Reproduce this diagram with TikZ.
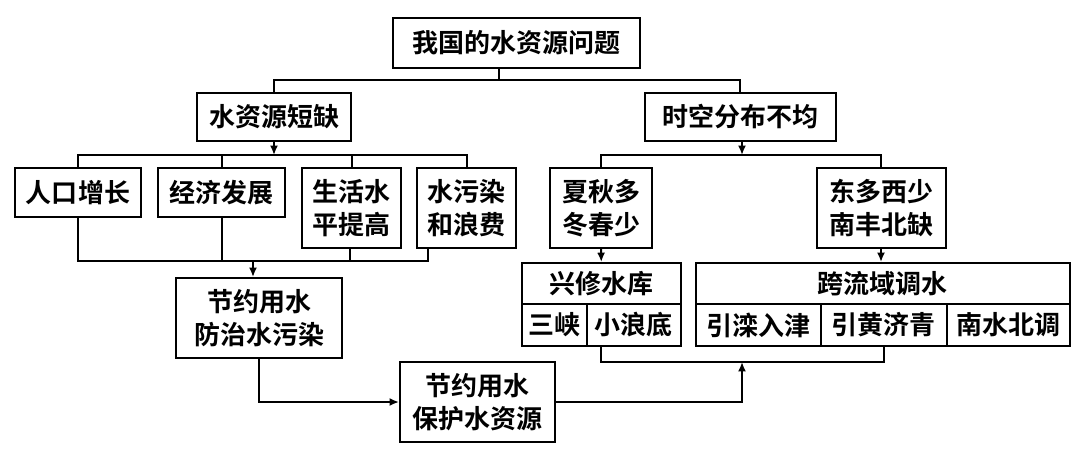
\documentclass[tikz,border=0pt]{standalone}
\usepackage{fontspec}
\newfontfamily\cjk{Noto Sans CJK SC Bold}
\usetikzlibrary{arrows.meta}

\begin{document}
\begin{tikzpicture}[x=0.75pt, y=-0.75pt,
		b/.style={draw, line width=1.5pt, inner sep=0pt, align=center, font=\cjk\fontsize{19.5}{25}\selectfont},
		arr/.style={-{Latex[length=7pt, width=6pt]}},
		every path/.style={line width=1.5pt}]
		\useasboundingbox (0,0) rectangle (1080,458);

		\node[b, minimum width=185.25pt, minimum height=37.5pt] (top) at (516,43) {我国的水资源问题};
		\node[b, minimum width=115.5pt, minimum height=36pt] (short) at (274,117) {水资源短缺};
		\node[b, minimum width=143.25pt, minimum height=36pt] (uneven) at (740,117) {时空分布不均};

		\node[b, minimum width=94.5pt, minimum height=36.75pt] (people) at (78,192.5) {人口增长};
		\node[b, minimum width=95.25pt, minimum height=36.75pt] (econ) at (221.5,192.5) {经济发展};
		\node[b, minimum width=74.25pt, minimum height=60pt] (life) at (351.5,208) {生活水\\平提高};
		\node[b, minimum width=74.25pt, minimum height=60pt] (pollu) at (466.5,208) {水污染\\和浪费};
		\node[b, minimum width=77pt, minimum height=59.8pt] (season) at (601,208) {夏秋多\\冬春少};
		\node[b, minimum width=96.75pt, minimum height=59.8pt] (region) at (881,208) {东多西少\\南丰北缺};

		\node[b, minimum width=124.5pt, minimum height=60pt] (save1) at (259,318) {节约用水\\防治水污染};
		\node[b, minimum width=116.25pt, minimum height=60pt] (save2) at (477.5,402) {节约用水\\保护水资源};

		\node[b, minimum width=119.5pt, minimum height=30.75pt] (res) at (601.3,283.5) {兴修水库};
		\node[b, minimum width=48.75pt, minimum height=31.5pt] (sanxia) at (554.2,325) {三峡};
		\node[b, minimum width=70.7pt, minimum height=31.5pt] (xld) at (633.8,325) {小浪底};
		\node[b, minimum width=280.7pt, minimum height=30.75pt] (cross) at (882.8,283.5) {跨流域调水};
		\node[b, minimum width=94pt, minimum height=31.5pt] (c1) at (758.3,325) {引滦入津};
		\node[b, minimum width=94.3pt, minimum height=31.5pt] (c2) at (883.8,325) {引黄济青};
		\node[b, minimum width=92.5pt, minimum height=31.5pt] (c3) at (1008.3,325) {南水北调};

		% junctions
		\coordinate (tj) at (499,80);
		\coordinate (sj) at (274,155);
		\coordinate (uj) at (742,155);
		\coordinate (bl) at (428,261);
		\coordinate (bm) at (350,261);
		\coordinate (bj) at (253,261);
		\coordinate (rj) at (742,362);

		\draw (top.south -| tj) -- (tj);
		\draw (short.north) |- (tj) -| (uneven.north);

		\draw[arr] (short.south) -- (sj);
		\draw (people.north) |- (pollu.north |- sj) -- (pollu.north);
		\draw (econ.north) -- (econ.north |- sj);
		\draw (life.north) -- (life.north |- sj);

		\draw[arr] (uneven.south -| uj) -- (uj);
		\draw (season.north) |- (uj) -| (region.north);
		\draw[arr] (season.south) -- (res.north);
		\draw[arr] (region.south) -- (region.south |- cross.north);

		\draw (people.south) |- (bl) -- (bl |- pollu.south);
		\draw (econ.south) -- (econ.south |- bl);
		\draw (bm |- life.south) -- (bm);
		\draw[arr] (bj) -- (bj |- save1.north);

		\draw[arr] (save1.south) |- (save2.west);
		\draw[arr] (save2.east) -| (rj);
		\draw (res.center |- xld.south) |- (rj) -| (c2.south);
	\end{tikzpicture}
\end{document}
